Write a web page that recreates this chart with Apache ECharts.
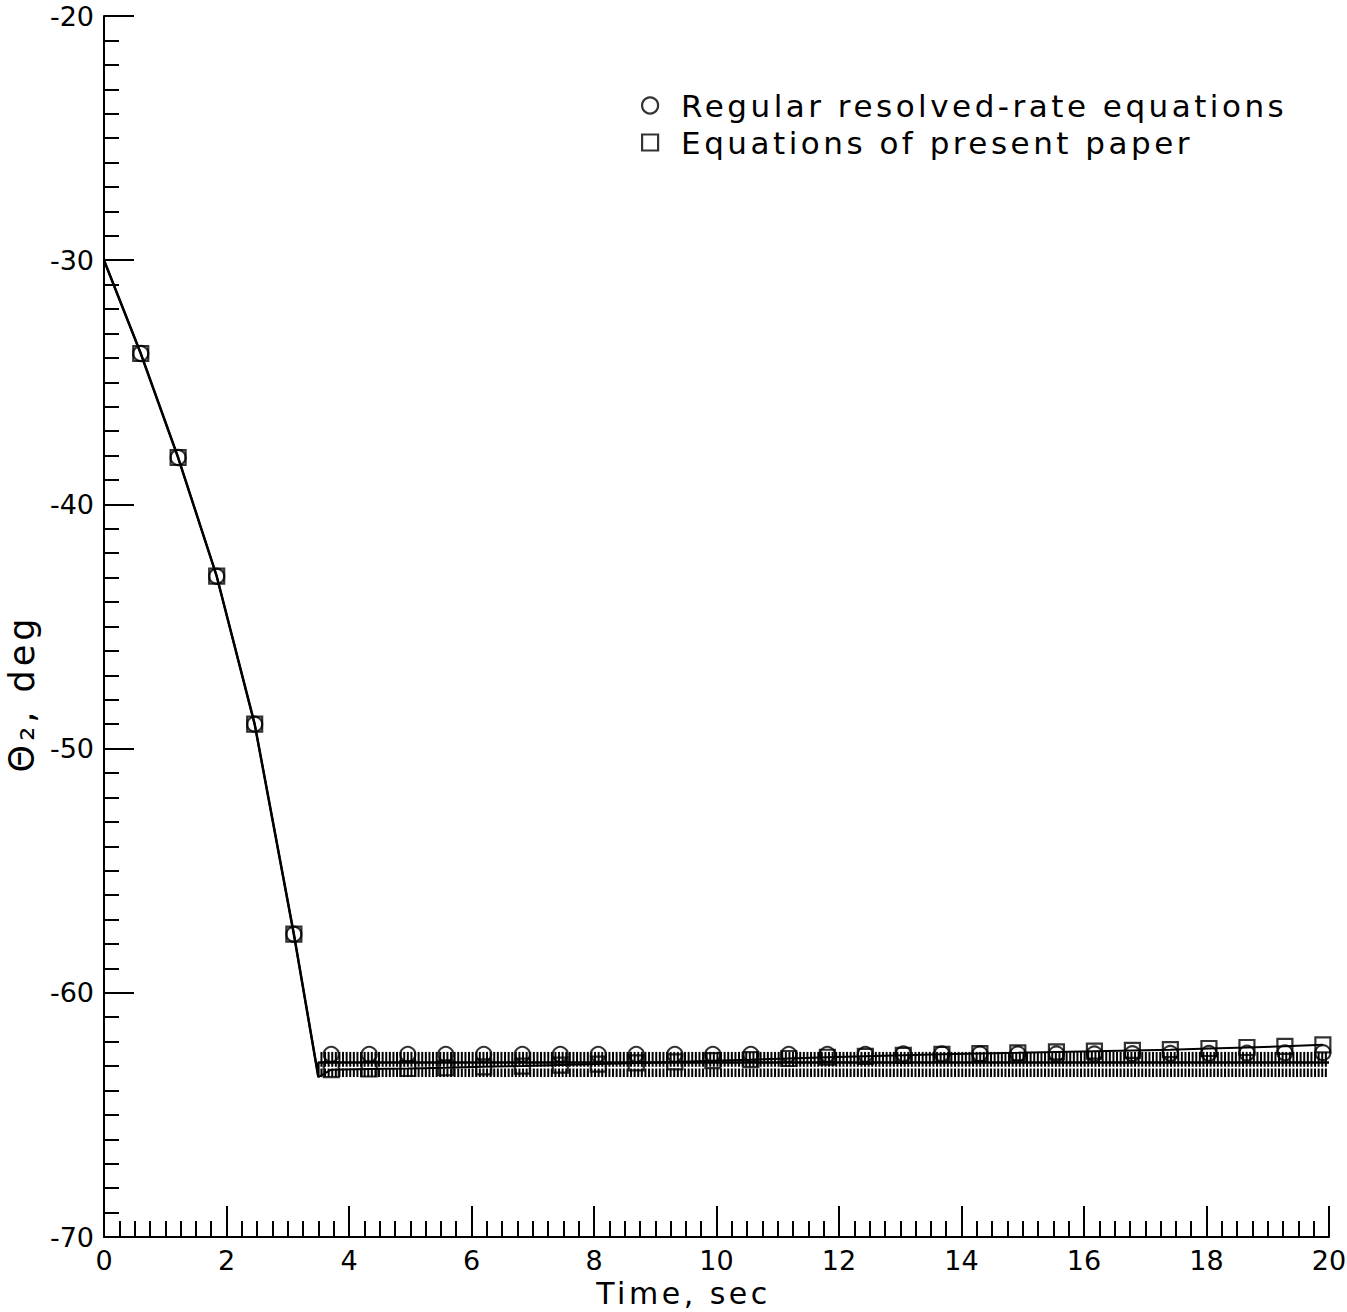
<!DOCTYPE html>
<html>
<head>
<meta charset="utf-8">
<script src="https://cdn.jsdelivr.net/npm/echarts@6/dist/echarts.min.js"></script>
<style>html,body{margin:0;padding:0;background:#fff}#c{width:1347px;height:1312px}</style>
</head>
<body>
<div id="c"></div>
<script>
// ---- data ----
// common descent (both methods coincide)
const descentT = [0, 0.6, 1.21, 1.84, 2.46, 3.10, 3.5];
const descentV = [-30, -33.82, -38.08, -42.94, -49.0, -57.6, -63.45];

// marker times
const markerT = [0.6, 1.21, 1.84, 2.46, 3.10, 3.71, 4.33, 4.96, 5.58, 6.2, 6.83, 7.45, 8.07, 8.69, 9.32, 9.94,
  10.56, 11.18, 11.81, 12.43, 13.05, 13.68, 14.3, 14.92, 15.55, 16.17, 16.79, 17.41, 18.04, 18.66, 19.28, 19.9];

// regular resolved-rate equations (circles)
const regularV = [-33.82, -38.08, -42.94, -49.0, -57.6, -62.52, -62.52, -62.52, -62.52, -62.52, -62.52, -62.52,
  -62.52, -62.52, -62.52, -62.52, -62.52, -62.52, -62.52, -62.52, -62.5, -62.5, -62.5, -62.5, -62.5, -62.5,
  -62.49, -62.48, -62.48, -62.47, -62.46, -62.45];

// equations of present paper (squares)
const presentV = [-33.82, -38.08, -42.94, -49.0, -57.6, -63.15, -63.12, -63.1, -63.07, -63.03, -63.0, -62.96,
  -62.92, -62.87, -62.83, -62.78, -62.74, -62.69, -62.64, -62.6, -62.56, -62.52, -62.49, -62.46, -62.42,
  -62.39, -62.36, -62.33, -62.28, -62.24, -62.19, -62.13];

// chattering band of the regular solution: [tStart, tEnd, top, bottom]
const chatterBands = [[3.55, 20, -62.42, -63.03], [3.55, 20, -63.1, -63.45]];
const chatterMeanT = [3.5, 20];
const chatterMeanV = [-62.85, -62.85];

const xTicks = [0, 2, 4, 6, 8, 10, 12, 14, 16, 18, 20];
const yTicks = [-70, -60, -50, -40, -30, -20];

// ---- build series ----
const pair = (t, v) => t.map((x, i) => [x, v[i]]);
const regLine = pair(descentT, descentV).concat(pair(chatterMeanT, chatterMeanV));
const presLine = pair(descentT, descentV).concat(pair(markerT.slice(5), presentV.slice(5)));

const FONT = 'DejaVu Sans';
const chart = echarts.init(document.getElementById('c'), null, {renderer: 'svg'});
const hollow = {color: 'rgba(0,0,0,0)', borderColor: '#000', borderWidth: 2.2};

chart.setOption({
  animation: false,
  backgroundColor: '#fff',
  grid: {left: 104, right: 18, top: 16, bottom: 75, containLabel: false, outerBoundsMode: 'none'},
  legend: {
    orient: 'vertical', left: 636, top: 84, itemWidth: 16, itemHeight: 16, itemGap: 4,
    textStyle: {fontFamily: FONT, fontSize: 31, color: '#000', padding: [0, 0, 0, 18], lineHeight: 33},
    data: [
      {name: 'Regular resolved-rate equations', icon: 'circle', itemStyle: hollow},
      {name: 'Equations of present paper', icon: 'rect', itemStyle: hollow}
    ]
  },
  xAxis: {
    type: 'value', min: 0, max: 20, interval: 2,
    name: 'Time, sec', nameLocation: 'middle', nameGap: 34,
    nameTextStyle: {fontFamily: FONT, fontSize: 30, color: '#000', padding: [0, 66, 0, 0]},
    axisLine: {show: true, onZero: false, lineStyle: {color: '#000', width: 2}},
    axisTick: {show: true, inside: true, length: 31, lineStyle: {color: '#000', width: 2}},
    minorTick: {show: true, splitNumber: 8, length: 16, lineStyle: {color: '#000', width: 2}},
    splitLine: {show: false},
    axisLabel: {fontFamily: FONT, fontSize: 27, color: '#000', margin: 10,
      formatter: v => xTicks.includes(v) ? String(v) : ''}
  },
  yAxis: {
    type: 'value', min: -70, max: -20, interval: 10,
    name: 'Θ₂, deg', nameLocation: 'middle', nameGap: 54, nameRotate: 90,
    nameTextStyle: {fontFamily: FONT, fontSize: 35, color: '#000', padding: [0, 134, 0, 0]},
    axisLine: {show: true, onZero: false, lineStyle: {color: '#000', width: 2}},
    axisTick: {show: true, inside: true, length: 30, lineStyle: {color: '#000', width: 2}},
    minorTick: {show: true, splitNumber: 10, length: 15, lineStyle: {color: '#000', width: 2}},
    splitLine: {show: false},
    axisLabel: {fontFamily: FONT, fontSize: 27, color: '#000', margin: 10,
      formatter: v => yTicks.includes(v) ? String(v) : ''}
  },
  series: [
    {
      type: 'custom', name: 'chatter', silent: true, z: 1,
      data: chatterBands,
      renderItem: (params, api) => {
        const p1 = api.coord([api.value(0), api.value(2)]);
        const p2 = api.coord([api.value(1), api.value(3)]);
        const children = [];
        for (let x = p1[0]; x <= p2[0]; x += 3.6) {
          children.push({type: 'line', shape: {x1: x, y1: p1[1], x2: x, y2: p2[1]},
            style: {stroke: '#000', lineWidth: 2}});
        }
        return {type: 'group', children};
      }
    },
    {type: 'line', name: 'regLine', data: regLine, symbol: 'none', z: 2,
      lineStyle: {color: '#000', width: 2.5}},
    {type: 'line', name: 'presLine', data: presLine, symbol: 'none', z: 2,
      lineStyle: {color: '#000', width: 2}},
    {type: 'scatter', name: 'Regular resolved-rate equations', data: pair(markerT, regularV),
      symbol: 'circle', symbolSize: 15, z: 3, itemStyle: hollow},
    {type: 'scatter', name: 'Equations of present paper', data: pair(markerT, presentV),
      symbol: 'rect', symbolSize: 15, z: 3, itemStyle: hollow}
  ]
});

// wide letter spacing of the plotter lettering (word texts only)
const spaced = {'Regular resolved-rate equations': '3.5px', 'Equations of present paper': '3.5px',
  'Time, sec': '3.5px', 'Θ₂, deg': '4px'};
function spaceWords() {
  document.querySelectorAll('#c svg text').forEach(t => {
    const s = spaced[t.textContent.trim()];
    if (s) t.style.letterSpacing = s;
  });
}
spaceWords();
chart.on('finished', spaceWords);
</script>
</body>
</html>
